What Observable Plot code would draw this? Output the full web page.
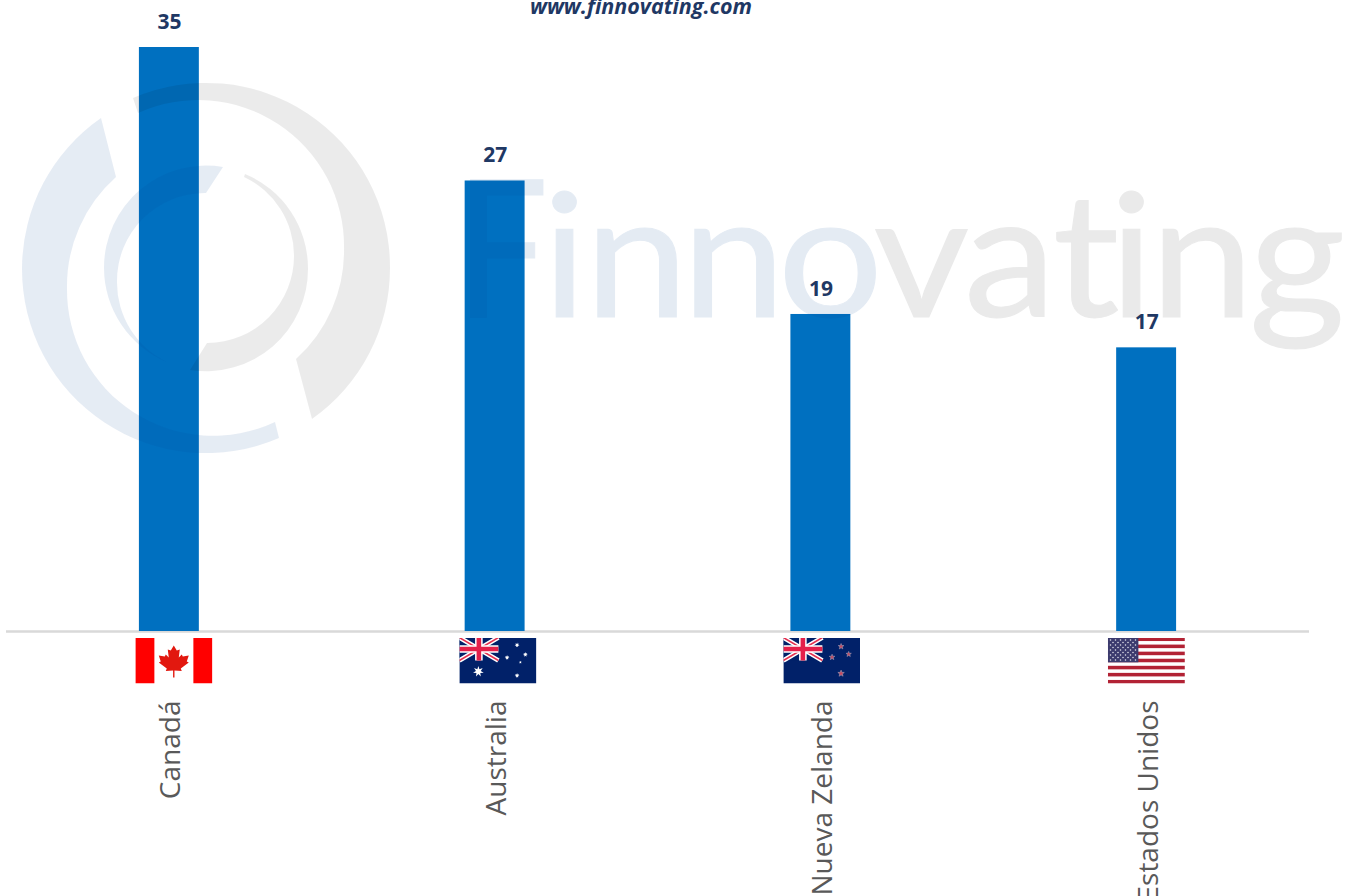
<!DOCTYPE html>
<html><head><meta charset="utf-8">
<script src="https://cdn.jsdelivr.net/npm/d3@7"></script>
<script src="https://cdn.jsdelivr.net/npm/@observablehq/plot@0.6"></script>
<style>html,body{margin:0;padding:0;background:#fff;overflow:hidden}svg{display:block}</style>
</head><body><div id="chart"></div>
<script>
const countries = ["Canadá", "Australia", "Nueva Zelanda", "Estados Unidos"];
const values = [35, 27, 19, 17];
const flagOffsets = [4.5, 2.75, 1, -0.25];
const sourceText = "www.finnovating.com";
const wordmarkStretch = 1.08;
const wordmarkBlue = [["inno", [564.5, 636.5, 733.5, 830.5]]];
const wordmarkGray = [["vating", [921.5, 1010, 1086, 1131.5, 1202, 1297]]];

const rows = countries.map((c, i) => ({country: c, value: values[i]}));

function star(cx, cy, r, n, inner) {
  const pts = [];
  for (let i = 0; i < n * 2; i++) {
    const rad = i % 2 ? r * inner : r, t = Math.PI * i / n - Math.PI / 2;
    pts.push((cx + rad * Math.cos(t)).toFixed(2) + "," + (cy + rad * Math.sin(t)).toFixed(2));
  }
  return pts.join(" ");
}
const jack = `<rect width="39" height="23" fill="#012169"/>
<path d="M0 0L39 23M39 0L0 23" stroke="#fff" stroke-width="4.6"/>
<path d="M0 0L39 23M39 0L0 23" stroke="#e4304f" stroke-width="1.5"/>
<path d="M19.5 0V23M0 11.5H39" stroke="#fff" stroke-width="7.6"/>
<path d="M19.5 0V23M0 11.5H39" stroke="#e4204a" stroke-width="4.6"/>`;
const wrap = s => "data:image/svg+xml;utf8," + encodeURIComponent(
  `<svg xmlns="http://www.w3.org/2000/svg" viewBox="0 0 77 46" width="77" height="46" preserveAspectRatio="none">${s}</svg>`);
const leaf = [[0,8],[3,13],[6,12],[5,20],[8,17],[9,19],[15,18],[13,24],[15,25],[7,31],[8,33.5],[.7,33],[.7,40],[-.7,40],[-.7,33],[-8,33.5],[-7,31],[-15,25],[-13,24],[-15,18],[-9,19],[-8,17],[-5,20],[-6,12],[-3,13]]
  .map(p => (38.4 + p[0]) + "," + p[1]).join(" ");
const canada = `<rect width="77" height="46" fill="#fff"/><rect width="19" height="46" fill="#f00"/><rect x="58" width="19" height="46" fill="#f00"/><polygon points="${leaf}" fill="#e2180f"/>`;
const australia = `<rect width="77" height="46" fill="#012169"/>${jack}` +
  [[19,34,5.5,7],[57.7,7.5,2.5,7],[66,17,2.5,7],[47.7,20,2.5,7],[61,24.7,1.5,5],[57.7,38,2.5,7]]
    .map(s => `<polygon fill="#fff" points="${star(s[0],s[1],s[2],s[3],.45)}"/>`).join("");
const newZealand = `<rect width="77" height="46" fill="#012169"/>${jack}` +
  [[57.7,9,3],[65.3,16.7,2.8],[48.7,19.7,3],[57.7,36,3.4]]
    .map(s => `<polygon fill="#c9485f" stroke="#9a9bb5" stroke-width=".6" points="${star(s[0],s[1],s[2],5,.42)}"/>`).join("");
let usBody = `<rect width="77" height="46" fill="#fff"/>`;
for (let i = 0; i < 13; i += 2) usBody += `<rect y="${(i * 46 / 13).toFixed(2)}" width="77" height="${(46 / 13).toFixed(2)}" fill="#b22234"/>`;
usBody += `<rect width="30.5" height="24.8" fill="#3c3b6e"/>`;
for (let r = 0; r < 9; r++) for (let c = 0; c < (r % 2 ? 5 : 6); c++)
  usBody += `<circle cx="${(2.6 + c * 5 + (r % 2 ? 2.5 : 0)).toFixed(1)}" cy="${(2.4 + r * 2.5).toFixed(1)}" r=".75" fill="#e8e8f2"/>`;
const flags = [canada, australia, newZealand, usBody].map(wrap);

function watermark() {
  const g = d3.create("svg:g").attr("aria-label", "watermark");
  const BLUE = "rgb(0,70,150)", GRAY = "#000";
  const shapes = [
    ["M133 98A184 184 0 0 1 390 268A184 184 0 0 1 312 419L296 359A146 146 0 0 0 344 248A146 146 0 0 0 138 113Z", GRAY, .08],
    ["M101 118A184 184 0 0 0 22 268A184 184 0 0 0 279 438L275 422A146 146 0 0 1 67 288A146 146 0 0 1 116 177Z", BLUE, .1],
    ["M245 174A102 102 0 0 1 308 268A102 102 0 0 1 190 370L207 343A87 87 0 0 0 294 255A87 87 0 0 0 244 177Z", GRAY, .08],
    ["M223 167A102 102 0 0 0 104 268A102 102 0 0 0 167 362A88 88 0 0 1 117 282A88 88 0 0 1 206 193Z", BLUE, .1]
  ];
  for (const [d, f, o] of shapes) g.append("path").attr("d", d).attr("fill", f).attr("fill-opacity", o);
  const wt = (fill, op, stretch) => g.append("text").attr("y", 317)
    .attr("transform", `scale(${stretch},1)`)
    .attr("font-family", "Lato").attr("font-size", 172).attr("font-weight", 400)
    .attr("fill", fill).attr("stroke", fill).attr("stroke-width", 1).attr("opacity", op);
  const xs = list => list.map(x => (x / wordmarkStretch).toFixed(1)).join(" ");
  wt(BLUE, .1, .85).attr("x", (502 / .85).toFixed(1)).attr("font-size", 193).text("F");
  const blue = wt(BLUE, .1, wordmarkStretch);
  for (const [s, list] of wordmarkBlue) blue.append("tspan").attr("x", xs(list)).text(s);
  const gray = wt(GRAY, .08, wordmarkStretch);
  for (const [s, list] of wordmarkGray) gray.append("tspan").attr("x", xs(list)).text(s);
  return g.node();
}
function sourceLabel() {
  return d3.create("svg:text").attr("x", 641).attr("y", 14).attr("text-anchor", "middle")
    .attr("font-family", "Open Sans").attr("font-weight", 700).attr("font-style", "italic")
    .attr("font-size", 21.5).attr("fill", "#1f3864").text(sourceText).node();
}

const plot = Plot.plot({
  width: 1354, height: 896,
  marginLeft: 6, marginRight: 45, marginTop: 0, marginBottom: 265,
  style: {background: "#fff", fontFamily: "Open Sans"},
  x: {domain: countries, paddingInner: 0.816, paddingOuter: 0.408, round: false, label: null},
  y: {domain: [0, 35], range: [631, 47], axis: null},
  marks: [
    Plot.ruleY([0], {stroke: "#d9d9d9", strokeWidth: 2.5}),
    Plot.barY(rows, {x: "country", y: "value", fill: "#0070c0"}),
    watermark,
    ...rows.map((r, i) => Plot.image([r], {x: "country", y: () => 0, src: () => flags[i], width: 77, height: 46, dx: flagOffsets[i], dy: 29, preserveAspectRatio: "none"})),
    Plot.text(rows, {x: "country", y: "value", text: d => String(d.value), dy: -25.5, fill: "#1f3864", fontSize: 21, fontWeight: 700, fontFamily: "Open Sans"}),
    Plot.axisX({tickSize: 0, tickPadding: 69, tickRotate: -90, fontSize: 28, dx: 2, fill: "#595959", fontFamily: "Open Sans", label: null}),
    sourceLabel
  ]
});
document.getElementById("chart").appendChild(plot);
</script></body></html>
